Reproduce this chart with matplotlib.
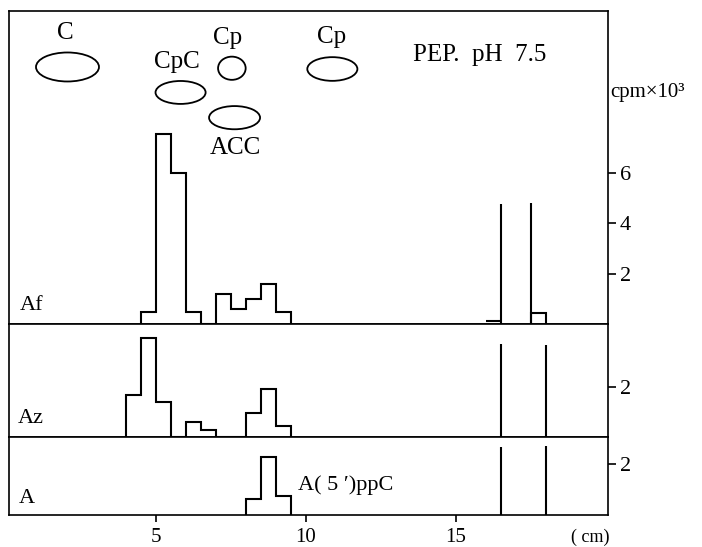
import matplotlib
matplotlib.use('Agg')
import numpy as np
import matplotlib.pyplot as plt
from matplotlib.patches import Ellipse


plt.rcParams['font.family'] = ['Liberation Serif', 'DejaVu Serif']

# histogram bins (cm) and counts (cpm x 10^3)
af_edges = [4.5, 5.0, 5.5, 6.0, 6.5, 7.0, 7.5, 8.0, 8.5, 9.0, 9.5]
af_counts = [0.49, 7.53, 6.0, 0.49, 0.0, 1.18, 0.6, 0.99, 1.61, 0.49]
af_front_edges = [16.0, 16.5]
af_front_counts = [0.12]
af_tail_edges = [17.5, 18.0]
af_tail_counts = [0.45]
af_marker_x = [16.5, 17.5]
af_marker_h = [4.75, 4.79]

az_edges = [4.0, 4.5, 5.0, 5.5, 6.0, 6.5, 7.0, 7.5, 8.0, 8.5, 9.0, 9.5]
az_counts = [1.67, 3.93, 1.39, 0.0, 0.6, 0.3, 0.0, 0.0, 0.96, 1.9, 0.45]
az_marker_x = [16.5, 18.0]
az_marker_h = [3.73, 3.67]

a_edges = [8.0, 8.5, 9.0, 9.5]
a_counts = [0.63, 2.31, 0.75]
a_marker_x = [16.5, 18.0]
a_marker_h = [2.67, 2.71]

# chromatogram spots: label, spot centre, spot size, label position
spot_names = ['C', 'CpC', 'Cp', 'ACC', 'Cp']
spot_xy = [(2.06, 10.2), (5.83, 9.19), (7.54, 10.15), (7.63, 8.19), (10.89, 10.12)]
spot_size = [(2.1, 1.15), (1.67, 0.91), (0.92, 0.92), (1.7, 0.92), (1.67, 0.94)]
label_xy = [(1.98, 11.55), (5.71, 10.4), (7.41, 11.35), (7.67, 6.97), (10.87, 11.38)]

x_ticks = [5, 10, 15]

LW = 1.5
FS = 16

fig = plt.figure(figsize=(7.02, 5.47), dpi=100)
gs = fig.add_gridspec(3, 1, height_ratios=[314, 113, 78], hspace=0,
                      left=9 / 702, right=608.3 / 702,
                      top=1 - 10.5 / 547, bottom=1 - 515 / 547)
ax_af = fig.add_subplot(gs[0])
ax_az = fig.add_subplot(gs[1], sharex=ax_af)
ax_a = fig.add_subplot(gs[2], sharex=ax_af)

ax_af.stairs(af_counts, af_edges, color='k', lw=LW, baseline=0)
ax_af.stairs(af_front_counts, af_front_edges, color='k', lw=LW, baseline=None)
ax_af.stairs(af_tail_counts, af_tail_edges, color='k', lw=LW, baseline=0)
ax_af.vlines(af_marker_x, 0, af_marker_h, color='k', lw=LW)

ax_az.stairs(az_counts, az_edges, color='k', lw=LW, baseline=0)
ax_az.vlines(az_marker_x, 0, az_marker_h, color='k', lw=LW)

ax_a.stairs(a_counts, a_edges, color='k', lw=LW, baseline=0)
ax_a.vlines(a_marker_x, 0, a_marker_h, color='k', lw=LW)

for name, c, s, t in zip(spot_names, spot_xy, spot_size, label_xy):
    ax_af.add_patch(Ellipse(c, s[0], s[1], fill=False, ec='k', lw=1.3))
    ax_af.text(t[0], t[1], name, fontsize=18, ha='center', va='center')

ax_af.text(15.81, 10.67, 'PEP.  pH  7.5', fontsize=18, ha='center', va='center')
ax_af.text(20.17, 9.17, 'cpm×10³', fontsize=15, ha='left', va='center', clip_on=False)

ax_af.text(0.48, 0.75, 'Af', fontsize=FS, ha='left', va='center')
ax_az.text(0.41, 0.73, 'Az', fontsize=FS, ha='left', va='center')
ax_a.text(0.44, 0.66, 'A', fontsize=FS, ha='left', va='center')
ax_a.text(9.73, 1.19, "A( 5 ′)ppC", fontsize=16, ha='left', va='center')
ax_a.text(19.48, -0.87, '( cm)', fontsize=13, ha='center', va='center', clip_on=False)

ax_af.set_ylim(0, 12.44)
ax_az.set_ylim(0, 4.5)
ax_a.set_ylim(0, 3.08)
ax_a.set_xlim(0.11, 20.09)

ax_af.set_yticks([2, 4, 6])
ax_az.set_yticks([2])
ax_a.set_yticks([2])
ax_a.set_xticks(x_ticks)

for ax in (ax_af, ax_az, ax_a):
    for sp in ax.spines.values():
        sp.set_linewidth(1.2)
    ax.yaxis.tick_right()
    ax.tick_params(axis='y', direction='out', length=5.5, width=1.2,
                   labelsize=FS, pad=3)
    ax.tick_params(axis='x', bottom=False, labelbottom=False)

ax_a.tick_params(axis='x', bottom=True, labelbottom=True, direction='out',
                 length=5, width=1.2, labelsize=15, pad=4.5)

plt.savefig('out.png', dpi=100)
